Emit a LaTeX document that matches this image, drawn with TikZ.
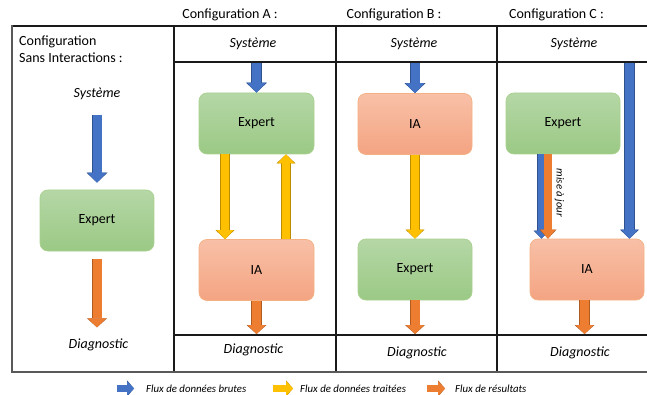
\documentclass[tikz,border=0pt]{standalone}
\usepackage{fontspec}
\setmainfont{Carlito}
\usetikzlibrary{arrows.meta,calc}
\definecolor{bluec}{HTML}{4472C4}
\definecolor{blueb}{HTML}{2F528F}
\definecolor{orac}{HTML}{ED7D31}
\definecolor{orab}{HTML}{AE5A21}
\definecolor{yelc}{HTML}{FFC000}
\definecolor{yelb}{HTML}{BC8C00}
\definecolor{gtop}{HTML}{B5D7A6}
\definecolor{gbot}{HTML}{9BC985}
\definecolor{gbrd}{HTML}{A9D18E}
\definecolor{otop}{HTML}{F8C0A7}
\definecolor{obot}{HTML}{F4A482}
\definecolor{obrd}{HTML}{F4B183}
\definecolor{framec}{HTML}{595959}
\definecolor{innerc}{HTML}{1A1A1A}
\begin{document}
\begin{tikzpicture}[x=1pt,y=-1pt,
  fatarrow/.style n args={7}{draw=#1, line width=#3,
     -{Triangle[width=#4,length=#5,line width=0pt,fill=#1,color=#1]},
     preaction={draw=#2, line width=#6,
       -{Triangle[width=#7,length=#5,line width=0pt,fill=#2,color=#2]}}},
  bigblue/.style={fatarrow={bluec}{blueb}{9pt}{19pt}{10pt}{10.2pt}{21pt}},
  rightblue/.style={fatarrow={bluec}{blueb}{9pt}{17pt}{9pt}{10.2pt}{19pt}},
  bigorange/.style={fatarrow={orac}{orab}{9pt}{18pt}{9pt}{10.2pt}{20pt}},
  yelarrow/.style={fatarrow={yelc}{yelb}{8pt}{17pt}{9pt}{9.2pt}{19pt}},
  smblue/.style={fatarrow={bluec}{blueb}{7.5pt}{14pt}{8pt}{8.5pt}{16pt}},
  smorange/.style={fatarrow={orac}{orab}{7.5pt}{15pt}{9pt}{8.5pt}{17pt}},
  legblue/.style={fatarrow={bluec}{blueb}{6.5pt}{15pt}{7pt}{7.4pt}{16.5pt}},
  legyel/.style={fatarrow={yelc}{yelb}{6.5pt}{15pt}{7pt}{7.4pt}{16.5pt}},
  legora/.style={fatarrow={orac}{orab}{6.5pt}{15pt}{7pt}{7.4pt}{16.5pt}},
  box/.style={rectangle, rounded corners=8pt, minimum width=114pt, minimum height=61pt,
     line width=0.7pt, font=\fontsize{14}{16}\selectfont},
  greenbox/.style={box, draw=gbrd, top color=gtop, bottom color=gbot},
  iabox/.style={box, draw=obrd, top color=otop, bottom color=obot},
  lbl/.style={font=\fontsize{14}{16}\selectfont\itshape},
  ttl/.style={font=\fontsize{14}{17}\selectfont},
  mise/.style={font=\fontsize{10.8}{12}\selectfont\itshape, rotate=-90, inner sep=0pt},
  leg/.style={font=\fontsize{10.8}{12}\selectfont\itshape, anchor=west, inner sep=0pt},
  framel/.style={draw=framec, line width=1.8pt},
  innerl/.style={draw=innerc, line width=1.4pt}
]
\useasboundingbox (0,0) rectangle (647,395);

% frame and table lines
\draw[innerl] (12,26) -- (647,26);
\draw[innerl] (174,26) -- (174,372);
\draw[innerl] (336,26) -- (336,372);
\draw[innerl] (497,26) -- (497,372);
\draw[innerl] (174,62) -- (647,62);
\draw[innerl] (174,335) -- (647,335);
\draw[framel] (12,25.3) -- (12,372) -- (647,372);
\coordinate (topline) at (0,62.8);
\coordinate (botline) at (0,334);

% titles
\node[ttl] (tA) at (230,15) {Configuration A :};
\node[ttl] (tB) at (394,15) {Configuration B :};
\node[ttl] (tC) at (556.5,15) {Configuration C :};

% Sans interactions
\node[ttl, align=left, anchor=west, inner sep=0pt] (cfg0) at (19,49.5) {Configuration\\Sans Interactions :};
\node[lbl] (sys0) at (97,94) {Système};
\node[greenbox] (exp0) at (97,220.5) {Expert};
\node[lbl] (diag0) at (98.5,345) {Diagnostic};
\draw[bigblue] ([yshift=-21pt]sys0.center) -- ([yshift=7pt]exp0.north);
\draw[bigorange] ([yshift=-8pt]exp0.south) -- ([yshift=-76pt]exp0.south);

% Configuration A
\node[lbl] (sysA) at (253,44) {Système};
\node[greenbox, minimum width=115pt] (expA) at (256.5,123.5) {Expert};
\node[iabox, minimum width=115pt] (iaA) at (256.5,270) {IA};
\node[lbl] (diagA) at (253.5,350) {Diagnostic};
\draw[bigblue] (topline -| expA.north) -- (expA.north);
\draw[yelarrow] ([xshift=-31.5pt]expA.south) -- ([xshift=-31.5pt]iaA.north);
\draw[yelarrow] ([xshift=29.5pt]iaA.north) -- ([xshift=29.5pt]expA.south);
\draw[bigorange] (iaA.south) -- (botline -| iaA.south);

% Configuration B
\node[lbl] (sysB) at (414,44) {Système};
\node[iabox] (iaB) at (415,124) {IA};
\node[greenbox] (expB) at (415,269.5) {Expert};
\node[lbl] (diagB) at (417,353) {Diagnostic};
\draw[bigblue] (topline -| iaB.north) -- (iaB.north);
\draw[yelarrow] (iaB.south) -- (expB.north);
\draw[bigorange] (expB.south) -- (botline -| expB.south);

% Configuration C
\node[lbl] (sysC) at (574,44) {Système};
\node[greenbox] (expC) at (563,123.5) {Expert};
\node[iabox] (iaC) at (587,269.5) {IA};
\node[lbl] (diagC) at (580,353) {Diagnostic};
\coordinate (cB1) at ([xshift=-21.5pt]expC.south);
\coordinate (cO1) at ([xshift=-15pt]expC.south);
\draw[smblue] (cB1) -- (cB1 |- iaC.north);
\draw[smorange] (cO1) -- (cO1 |- iaC.north);
\node[mise] (maj) at (559.5,193) {mise à jour};
\coordinate (cR) at ([xshift=42.5pt]iaC.north);
\draw[rightblue] (topline -| cR) -- (cR);
\coordinate (cO2) at ([xshift=-2.5pt]iaC.south);
\draw[bigorange] (cO2) -- (botline -| cO2);

% legend
\node[leg] (l1) at (146,388.5) {Flux de données brutes};
\node[leg] (l2) at (300,388.5) {Flux de données traitées};
\node[leg] (l3) at (455,388.5) {Flux de résultats};
\draw[legblue] ([xshift=-29pt]l1.west) -- ([xshift=-12pt]l1.west);
\draw[legyel] ([xshift=-27pt]l2.west) -- ([xshift=-7pt]l2.west);
\draw[legora] ([xshift=-28pt]l3.west) -- ([xshift=-10pt]l3.west);
\end{tikzpicture}
\end{document}
